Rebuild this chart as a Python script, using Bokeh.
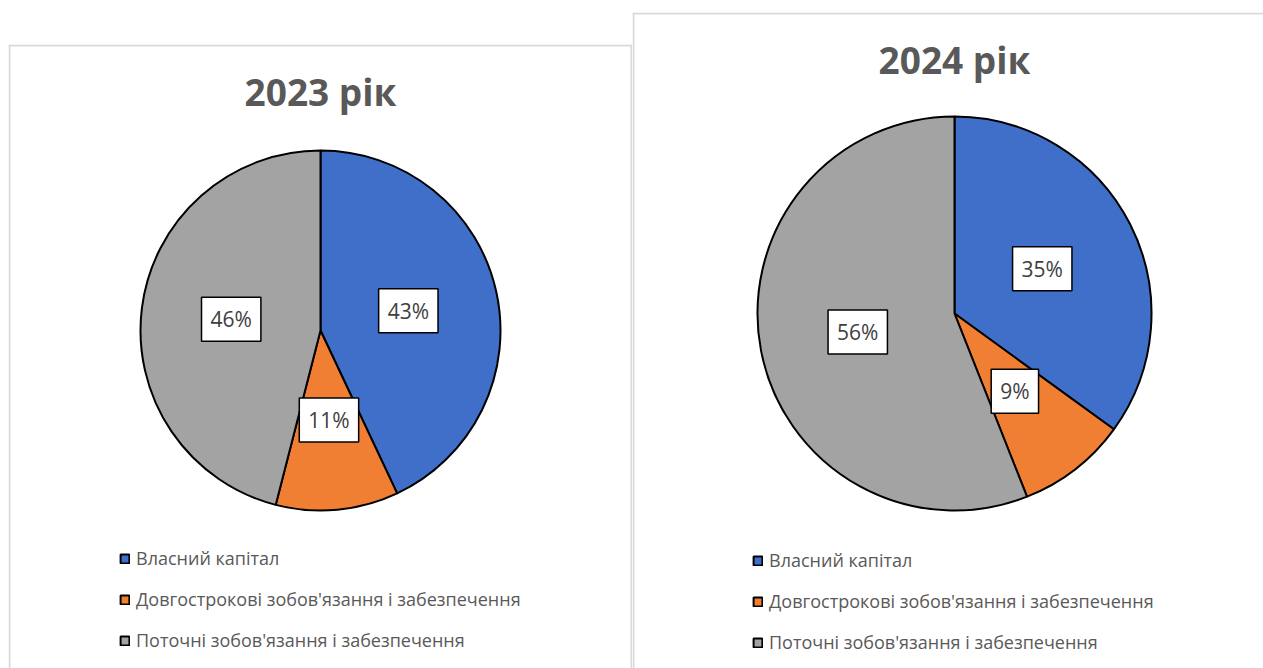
import math
from bokeh.plotting import figure
from bokeh.models import ColumnDataSource, Legend, LegendItem, Spacer, Range1d, Span
from bokeh.layouts import row, column
from bokeh.embed import file_html
from bokeh.resources import INLINE
from bokeh.core.properties import value

# ---- data ----
categories = ["Власний капітал",
              "Довгострокові зобов'язання і забезпечення",
              "Поточні зобов'язання і забезпечення"]
shares_2023 = [43, 11, 46]
shares_2024 = [35, 9, 56]
title_2023 = "2023 рік"
title_2024 = "2024 рік"
colors = ["#3F6FC9", "#F07F33", "#A3A3A3"]

FONT = "Open Sans"
BORDER = "#d9d9d9"


def make_pie(title, shares, w, h, cx, cy, r, ty, legend_xy, right_border):
    p = figure(width=w, height=h, x_range=Range1d(0, w), y_range=Range1d(0, h),
               output_backend="svg", toolbar_location=None, min_border=0,
               background_fill_color="white", border_fill_color="white")
    p.axis.visible = False
    p.grid.visible = False
    p.outline_line_color = None

    # panel frame (top, left and optionally right edges)
    p.add_layout(Span(location=h - 1, dimension="width", line_color=BORDER, line_width=2))
    p.add_layout(Span(location=1, dimension="height", line_color=BORDER, line_width=2))
    if right_border:
        p.add_layout(Span(location=w - 1, dimension="height", line_color=BORDER, line_width=2))

    total = float(sum(shares))
    starts, ends, lx, ly, labels = [], [], [], [], []
    cum = 0.0
    for v in shares:
        a0 = math.pi / 2 - 2 * math.pi * cum / total
        cum += v
        a1 = math.pi / 2 - 2 * math.pi * cum / total
        mid = (a0 + a1) / 2
        starts.append(a0)
        ends.append(a1)
        lx.append(cx + 0.5 * r * math.cos(mid))
        ly.append(cy + 0.5 * r * math.sin(mid))
        labels.append(f"{v}%")

    src = ColumnDataSource(dict(cat=categories, start=starts, end=ends, color=colors,
                                lx=lx, ly=ly, label=labels))
    rend = p.wedge(x=cx, y=cy, radius=r, start_angle="start", end_angle="end",
                   direction="clock", fill_color="color", line_color="black",
                   line_width=2, source=src)

    p.text(x="lx", y="ly", text="label", source=src, text_align="center",
           text_baseline="middle", text_font=value(FONT), text_font_size="21px",
           text_color="#404040", background_fill_color="white",
           border_line_color="black", border_line_width=1.5, padding=(9, 8))

    p.text(x=[cx], y=[ty], text=[title], text_align="center",
           text_baseline="middle", text_font=value(FONT), text_font_size="37px",
           text_font_style="bold", text_color="#595959")

    items = [LegendItem(label=c, renderers=[rend], index=i) for i, c in enumerate(categories)]
    leg = Legend(items=items, location=legend_xy, orientation="vertical",
                 glyph_width=11, glyph_height=11, label_text_font=FONT,
                 label_text_font_size="18px", label_text_color="#595959",
                 label_standoff=6, spacing=17, padding=0, margin=0,
                 border_line_color=None, background_fill_alpha=0)
    p.add_layout(leg)
    return p


left = make_pie(title_2023, shares_2023, 624, 624, 312, 338, 180, 577, (111, 16), True)
right = make_pie(title_2024, shares_2024, 631, 656, 322, 355, 197, 609, (120, 14), False)

layout = column(Spacer(width=1263, height=0),
                row(Spacer(width=8, height=10),
                    column(Spacer(width=624, height=44), left),
                    column(Spacer(width=631, height=12), right)))

open("out.html", "w").write(file_html(layout, INLINE))
